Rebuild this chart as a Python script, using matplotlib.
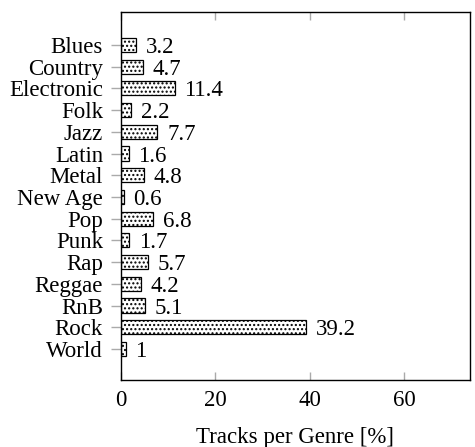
import matplotlib
matplotlib.use("Agg")
import matplotlib.pyplot as plt

genres = ["Blues", "Country", "Electronic", "Folk", "Jazz", "Latin", "Metal",
          "New Age", "Pop", "Punk", "Rap", "Reggae", "RnB", "Rock", "World"]
shares = [3.2, 4.7, 11.4, 2.2, 7.7, 1.6, 4.8, 0.6, 6.8, 1.7, 5.7, 4.2, 5.1, 39.2, 1]
labels = ["3.2", "4.7", "11.4", "2.2", "7.7", "1.6", "4.8", "0.6", "6.8", "1.7",
          "5.7", "4.2", "5.1", "39.2", "1"]
xticks = [0, 20, 40, 60]

plt.rcParams['font.family'] = ['Liberation Serif', 'DejaVu Serif']
plt.rcParams['hatch.linewidth'] = 1.0

fig = plt.figure(figsize=(4.75, 4.47), dpi=100)
ax = fig.add_axes([121/475, 1-380/447, (470-121)/475, (380-12)/447])

fs = 16.5
pos = list(range(len(genres)))
ax.barh(pos, shares, height=0.65, color='white', edgecolor='black',
        hatch='....', linewidth=0.9)
for p, v, t in zip(pos, shares, labels):
    ax.annotate(t, (v, p), xytext=(7, 0), textcoords='offset points',
                va='center_baseline', ha='left', fontsize=fs)

ax.set_yticks(pos)
ax.set_yticklabels(genres, fontsize=fs)
ax.set_ylim(15.43, -1.52)
ax.set_xlim(0, 74)
ax.set_xticks(xticks)
ax.set_xticklabels([str(x) for x in xticks], fontsize=fs)
ax.tick_params(axis='x', direction='in', top=True, bottom=True, color='#aaaaaa',
               length=6, width=1, pad=7)
ax.tick_params(axis='y', direction='out', left=True, right=False, color='#aaaaaa',
               length=7, width=1, pad=6)
for s in ax.spines.values():
    s.set_linewidth(1.0)
ax.set_xlabel("Tracks per Genre [%]", fontsize=fs, labelpad=12)

fig.savefig("out.png", dpi=100)
